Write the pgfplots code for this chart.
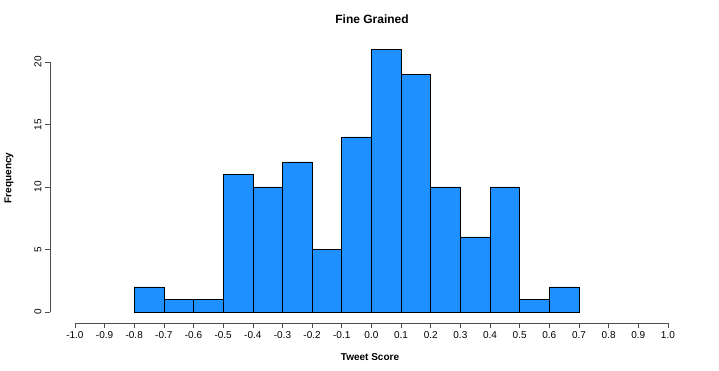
\documentclass[border=0pt]{standalone}
\usepackage{pgfplots}
\pgfplotsset{compat=1.18}
\usepackage{fontspec}
\setmainfont{Liberation Sans}
\definecolor{dodger}{HTML}{1E90FF}
\begin{document}
\begin{tikzpicture}[x=1pt,y=1pt]
\path[use as bounding box] (0pt,0pt) rectangle (719pt,371pt);
\begin{axis}[
  at={(50pt,48pt)}, anchor=south west,
  scale only axis, width=640pt, height=283pt,
  xmin=-1.084, xmax=1.0745, ymin=-0.88, ymax=21.76,
  axis x line*=bottom, axis y line*=left,
  axis line style={draw=none},
  tick align=outside, major tick length=5pt,
  tick style={black!70, line width=0.6pt},
  xtick={-1,-0.9,...,1.01},
  xticklabels={-1.0,-0.9,-0.8,-0.7,-0.6,-0.5,-0.4,-0.3,-0.2,-0.1,0.0,0.1,0.2,0.3,0.4,0.5,0.6,0.7,0.8,0.9,1.0},
  ytick={0,5,10,15,20},
  yticklabel style={rotate=90, anchor=south, font=\fontsize{10}{12}\selectfont},
  xticklabel style={font=\fontsize{10}{12}\selectfont},
  /pgf/number format/assume math mode=true,
  clip=false,
]
\addplot[ybar interval, fill=dodger, draw=black, line width=0.6pt] coordinates {
(-0.8,2) (-0.7,1) (-0.6,1) (-0.5,11) (-0.4,10) (-0.3,12) (-0.2,5) (-0.1,14)
(0.0,21) (0.1,19) (0.2,10) (0.3,6) (0.4,10) (0.5,1) (0.6,2) (0.7,2)
};
\draw[black!70, line width=0.6pt] (axis cs:-1,-0.88) -- (axis cs:1,-0.88);
\draw[black!70, line width=0.6pt] (axis cs:-1.084,0) -- (axis cs:-1.084,20);
\end{axis}
\node[font=\fontsize{12}{14}\selectfont\bfseries] at (372pt,352pt) {Fine Grained};
\node[font=\fontsize{10}{12}\selectfont\bfseries] at (370pt,14pt) {Tweet Score};
\node[font=\fontsize{10}{12}\selectfont\bfseries, rotate=90] at (9pt,193pt) {Frequency};
\end{tikzpicture}
\end{document}
